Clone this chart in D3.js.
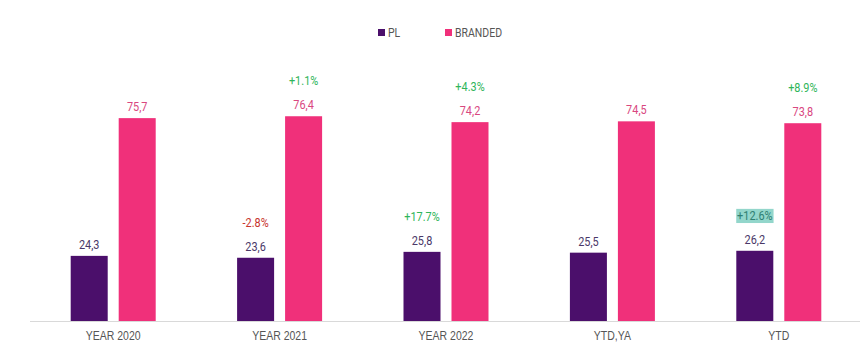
<!DOCTYPE html>
<html>
<head>
<meta charset="utf-8">
<script src="https://cdn.jsdelivr.net/npm/d3@7"></script>
<style>
  html, body { margin: 0; padding: 0; background: #fff; }
  svg { display: block; font-family: "Roboto", "Noto Sans", sans-serif; }
</style>
</head>
<body>
<svg id="chart" width="860" height="347"></svg>
<script>
// Periods on the x axis
const categories = ["YEAR 2020", "YEAR 2021", "YEAR 2022", "YTD,YA", "YTD"];
// Share values per series
const series = ["PL", "BRANDED"];
const plValues = [24.3, 23.6, 25.8, 25.5, 26.2];
const brandedValues = [75.7, 76.4, 74.2, 74.5, 73.8];
// Change vs previous period (null = no label)
const plChange = [null, "-2.8%", "+17.7%", null, "+12.6%"];
const brandedChange = [null, "+1.1%", "+4.3%", null, "+8.9%"];
const highlightedChange = ["+12.6%"];

const colors = { PL: "#4b0f6b", BRANDED: "#f0307a" };
const labelColors = { PL: "#4a3868", BRANDED: "#d9477f" };
const SQUEEZE = 0.84; // condensed look for all text

const svg = d3.select("#chart");
const W = 860;

const x0 = d3.scaleBand().domain(categories).range([30, 862]).paddingInner(0).paddingOuter(0);
const x1 = d3.scaleBand().domain(series).range([-42.5, 42.5]).paddingInner(0.229).paddingOuter(0);
const y = d3.scaleLinear().domain([0, 100]).range([321, 53]);

const data = categories.map((c, i) => ({
  cat: c,
  bars: [
    { key: "PL", value: plValues[i], change: plChange[i] },
    { key: "BRANDED", value: brandedValues[i], change: brandedChange[i] }
  ]
}));

// Baseline
svg.append("line")
  .attr("x1", 30).attr("x2", W)
  .attr("y1", y(0) + 0.5).attr("y2", y(0) + 0.5)
  .attr("stroke", "#d9d9d9").attr("stroke-width", 1);

// Category axis
const xAxis = d3.axisBottom(x0).tickSize(0).tickPadding(10);
const gx = svg.append("g").attr("transform", `translate(0,${y(0)})`).call(xAxis);
gx.select(".domain").remove();
gx.selectAll("text")
  .attr("fill", "#555")
  .attr("font-size", 12.5)
  .attr("font-weight", 500)
  .attr("transform", `scale(${SQUEEZE},1)`)
  .attr("x", 0);

const groups = svg.selectAll("g.cat").data(data).join("g")
  .attr("class", "cat")
  .attr("transform", d => `translate(${x0(d.cat) + x0.bandwidth() / 2},0)`);

groups.selectAll("rect").data(d => d.bars).join("rect")
  .attr("x", d => x1(d.key))
  .attr("width", x1.bandwidth())
  .attr("y", d => y(d.value))
  .attr("height", d => y(0) - y(d.value))
  .attr("fill", d => colors[d.key]);

// Value labels
groups.selectAll("text.val").data(d => d.bars).join("text")
  .attr("class", "val")
  .attr("transform", d => `translate(${x1(d.key) + x1.bandwidth() / 2},${y(d.value) - 7}) scale(${SQUEEZE},1)`)
  .attr("text-anchor", "middle")
  .attr("font-size", 13)
  .attr("font-weight", 400)
  .attr("fill", d => labelColors[d.key])
  .text(d => d3.format(".1f")(d.value).replace(".", ","));

// Change labels
const changes = groups.selectAll("g.chg").data(d => d.bars.filter(b => b.change)).join("g")
  .attr("class", "chg")
  .attr("transform", d => `translate(${x1(d.key) + x1.bandwidth() / 2},${y(d.value) - 31}) scale(${SQUEEZE},1)`);

changes.each(function(d) {
  const g = d3.select(this);
  const hl = highlightedChange.includes(d.change);
  const t = g.append("text")
    .attr("text-anchor", "middle")
    .attr("font-size", 13)
    .attr("font-weight", 400)
    .attr("fill", hl ? "#2e7f72" : (d.change.startsWith("-") ? "#c8352e" : "#2fb55a"))
    .text(d.change);
  if (hl) {
    const bb = t.node().getBBox();
    g.insert("rect", "text")
      .attr("x", bb.x - 1).attr("y", bb.y + 1)
      .attr("width", bb.width + 2).attr("height", bb.height - 1)
      .attr("fill", "#93d6cb");
  }
});

// Legend
const legendPos = { PL: 378, BRANDED: 445 };
const legend = svg.selectAll("g.legend").data(series).join("g")
  .attr("class", "legend")
  .attr("transform", d => `translate(${legendPos[d]},29)`);
legend.append("rect").attr("width", 7).attr("height", 7).attr("fill", d => colors[d]);
legend.append("text")
  .attr("transform", `translate(10,7.5) scale(${SQUEEZE},1)`)
  .attr("font-size", 12.5)
  .attr("fill", "#555")
  .text(d => d);
</script>
</body>
</html>
